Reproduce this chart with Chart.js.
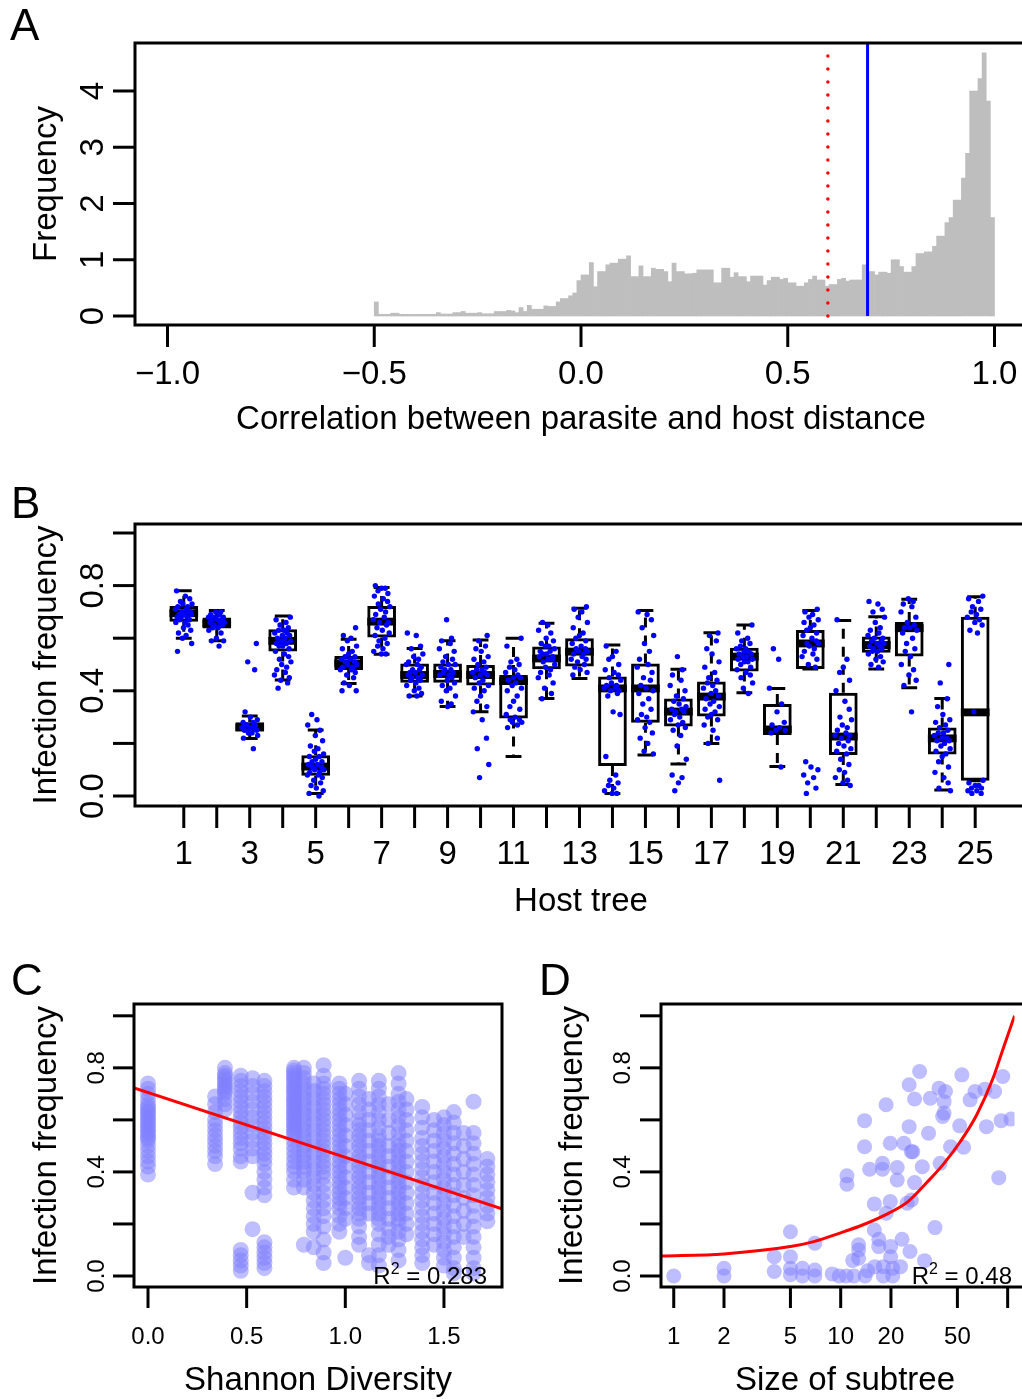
<!DOCTYPE html>
<html>
<head>
<meta charset="utf-8">
<script src="https://cdn.jsdelivr.net/npm/chart.js@4.4.1/dist/chart.umd.min.js"></script>
<style>
  html, body { margin: 0; padding: 0; background: #fff; overflow: hidden; }
  #page { position: relative; width: 1022px; height: 1399px; background: #fff; }
  canvas { position: absolute; }
</style>
</head>
<body>
<div id="page">
  <canvas id="panelA" width="1022" height="460" style="left:0;top:0"></canvas>
  <canvas id="panelB" width="1022" height="480" style="left:0;top:460px"></canvas>
  <canvas id="panelC" width="522" height="459" style="left:0;top:940px"></canvas>
  <canvas id="panelD" width="500" height="459" style="left:522px;top:940px"></canvas>
</div>
<script>
// ---------- panel A: correlation histogram (density, bins of 0.01 from -0.5)
const histStart = -0.5;
const histBin = 0.01;
const histDensity = [
  0.25, 0.03, 0.03, 0.03, 0.05, 0.05, 0.03, 0.03, 0.03, 0.03,
  0.03, 0.03, 0.03, 0.03, 0.03, 0.06, 0.035, 0.035, 0.035, 0.06,
  0.06, 0.08, 0.05, 0.05, 0.05, 0.06, 0.04, 0.04, 0.04, 0.08,
  0.08, 0.08, 0.10, 0.09, 0.06, 0.15, 0.08, 0.19, 0.12, 0.12,
  0.12, 0.18, 0.17, 0.17, 0.25, 0.31, 0.31, 0.36, 0.41, 0.63,
  0.73, 0.73, 0.95, 0.52, 0.79, 0.79, 0.91, 0.94, 0.94, 1.01,
  1.01, 1.07, 0.70, 0.70, 0.89, 0.70, 0.70, 0.85, 0.83, 0.83,
  0.79, 0.61, 0.94, 0.79, 0.79, 0.75, 0.75, 0.76, 0.82, 0.82,
  0.82, 0.82, 0.59, 0.59, 0.85, 0.85, 0.69, 0.77, 0.70, 0.70,
  0.61, 0.71, 0.71, 0.71, 0.55, 0.63, 0.69, 0.69, 0.65, 0.67,
  0.59, 0.59, 0.53, 0.53, 0.59, 0.65, 0.71, 0.64, 0.64, 0.53,
  0.56, 0.56, 0.65, 0.67, 0.62, 0.64, 0.64, 0.64, 0.91, 0.79,
  0.79, 0.73, 0.78, 0.78, 0.76, 1.00, 1.00, 0.88, 0.78, 0.78,
  0.88, 1.11, 1.11, 1.14, 1.14, 1.24, 1.42, 1.42, 1.66, 1.75,
  2.06, 2.06, 2.45, 2.89, 4.00, 4.00, 4.22, 4.68, 3.82, 1.75
];
const nullCorr = 0.597;   // red dotted line
const obsCorr = 0.693;    // blue line
const corrTicks = [-1, -0.5, 0, 0.5, 1];
const corrTickLabels = ['\u22121.0', '\u22120.5', '0.0', '0.5', '1.0'];
const freqTicks = [0, 1, 2, 3, 4];
const freqTickLabels = ['0', '1', '2', '3', '4'];

// ---------- panel B: infection frequency per host tree
const hostIds = [1,2,3,4,5,6,7,8,9,10,11,12,13,14,15,16,17,18,19,20,21,22,23,24,25];
const hostLo  = [0.600,0.590,0.219,0.441,0.010,0.428,0.539,0.380,0.340,0.320,0.150,0.371,0.447,0.010,0.156,0.122,0.200,0.393,0.112,0.483,0.044,0.483,0.412,0.023,0.058];
const hostQ1  = [0.663,0.637,0.245,0.549,0.077,0.479,0.603,0.431,0.431,0.420,0.295,0.482,0.492,0.114,0.279,0.264,0.302,0.473,0.232,0.483,0.156,0.545,0.530,0.158,0.058];
const hostMed = [0.695,0.656,0.261,0.590,0.112,0.504,0.663,0.460,0.464,0.460,0.437,0.523,0.549,0.409,0.409,0.321,0.378,0.530,0.253,0.580,0.226,0.574,0.638,0.219,0.318];
const hostQ3  = [0.722,0.679,0.280,0.634,0.155,0.532,0.722,0.504,0.504,0.498,0.460,0.568,0.600,0.454,0.504,0.371,0.435,0.564,0.350,0.631,0.393,0.606,0.662,0.260,0.682];
const hostHi  = [0.780,0.705,0.304,0.684,0.251,0.596,0.793,0.561,0.590,0.593,0.600,0.657,0.714,0.574,0.705,0.482,0.621,0.650,0.409,0.705,0.667,0.682,0.748,0.371,0.758];
const hostPoints = [
  [0.78,0.76,0.75,0.74,0.73,0.73,0.72,0.72,0.71,0.71,0.70,0.70,0.70,0.69,0.69,0.69,0.68,0.68,0.68,0.67,0.67,0.66,0.66,0.65,0.64,0.63,0.62,0.61,0.60,0.58,0.55],
  [0.70,0.70,0.69,0.69,0.68,0.68,0.68,0.67,0.67,0.67,0.66,0.66,0.66,0.65,0.65,0.64,0.64,0.63,0.62,0.60,0.59,0.59,0.57],
  [0.58,0.51,0.48,0.32,0.30,0.29,0.28,0.28,0.27,0.27,0.27,0.26,0.26,0.26,0.25,0.25,0.25,0.24,0.24,0.23,0.22,0.18],
  [0.68,0.67,0.66,0.65,0.64,0.63,0.63,0.62,0.62,0.61,0.61,0.60,0.60,0.59,0.59,0.58,0.58,0.57,0.57,0.56,0.55,0.54,0.53,0.52,0.51,0.50,0.49,0.48,0.47,0.46,0.45,0.44,0.43,0.41],
  [0.31,0.29,0.27,0.25,0.23,0.21,0.19,0.18,0.17,0.16,0.15,0.15,0.14,0.13,0.13,0.12,0.12,0.11,0.11,0.10,0.10,0.09,0.09,0.08,0.08,0.07,0.06,0.05,0.04,0.03,0.02,0.01,0.00],
  [0.64,0.61,0.60,0.59,0.57,0.56,0.55,0.54,0.53,0.53,0.52,0.52,0.51,0.51,0.50,0.50,0.49,0.49,0.48,0.48,0.47,0.46,0.45,0.43,0.42,0.40,0.40],
  [0.80,0.79,0.79,0.78,0.77,0.76,0.75,0.74,0.73,0.72,0.71,0.70,0.69,0.68,0.67,0.66,0.66,0.65,0.64,0.63,0.62,0.61,0.60,0.59,0.58,0.57,0.56,0.55,0.54,0.54],
  [0.62,0.61,0.57,0.56,0.54,0.53,0.52,0.51,0.50,0.50,0.49,0.48,0.48,0.47,0.47,0.46,0.46,0.45,0.45,0.44,0.44,0.43,0.42,0.41,0.40,0.39,0.38,0.38],
  [0.67,0.60,0.59,0.58,0.56,0.55,0.53,0.52,0.51,0.50,0.50,0.49,0.48,0.48,0.47,0.47,0.46,0.46,0.45,0.44,0.43,0.42,0.41,0.40,0.38,0.36,0.35,0.34],
  [0.61,0.59,0.57,0.56,0.55,0.53,0.52,0.51,0.50,0.49,0.48,0.48,0.47,0.47,0.46,0.46,0.45,0.44,0.43,0.42,0.41,0.40,0.38,0.36,0.34,0.32,0.29,0.22,0.18,0.12,0.07],
  [0.60,0.57,0.52,0.51,0.50,0.49,0.48,0.47,0.46,0.45,0.45,0.44,0.43,0.42,0.41,0.40,0.38,0.36,0.34,0.33,0.31,0.30,0.29,0.29,0.28,0.28,0.27,0.26],
  [0.66,0.65,0.63,0.62,0.60,0.59,0.58,0.57,0.57,0.56,0.55,0.55,0.54,0.54,0.53,0.53,0.52,0.52,0.51,0.50,0.49,0.48,0.47,0.46,0.45,0.43,0.41,0.39,0.37],
  [0.72,0.71,0.70,0.68,0.66,0.64,0.62,0.61,0.60,0.59,0.58,0.57,0.56,0.56,0.55,0.55,0.54,0.54,0.53,0.52,0.52,0.51,0.50,0.49,0.48,0.47,0.46],
  [0.57,0.55,0.53,0.52,0.50,0.48,0.47,0.46,0.45,0.44,0.43,0.42,0.42,0.41,0.41,0.40,0.40,0.39,0.38,0.32,0.31,0.15,0.08,0.06,0.05,0.04,0.03,0.02,0.01,0.01],
  [0.70,0.69,0.67,0.64,0.61,0.58,0.55,0.52,0.50,0.49,0.47,0.45,0.44,0.42,0.41,0.40,0.39,0.37,0.35,0.33,0.31,0.30,0.29,0.28,0.26,0.24,0.22,0.20,0.17,0.16],
  [0.53,0.48,0.46,0.44,0.42,0.40,0.38,0.37,0.36,0.35,0.34,0.33,0.33,0.32,0.32,0.31,0.30,0.29,0.28,0.27,0.26,0.25,0.23,0.19,0.14,0.08,0.07,0.05,0.02],
  [0.62,0.61,0.59,0.56,0.54,0.51,0.49,0.47,0.45,0.44,0.43,0.42,0.41,0.40,0.39,0.38,0.37,0.36,0.35,0.34,0.33,0.32,0.31,0.30,0.29,0.27,0.25,0.22,0.20,0.06],
  [0.65,0.62,0.60,0.59,0.58,0.57,0.56,0.56,0.55,0.55,0.54,0.54,0.53,0.53,0.52,0.52,0.51,0.51,0.50,0.49,0.48,0.47,0.46,0.45,0.43,0.41,0.39],
  [0.56,0.52,0.41,0.35,0.32,0.28,0.27,0.26,0.25,0.25,0.24,0.11],
  [0.71,0.70,0.69,0.68,0.67,0.66,0.65,0.64,0.63,0.62,0.61,0.60,0.59,0.58,0.58,0.57,0.56,0.55,0.54,0.53,0.52,0.50,0.49,0.13,0.11,0.10,0.08,0.07,0.05,0.03,0.01],
  [0.67,0.52,0.49,0.47,0.44,0.40,0.36,0.33,0.30,0.29,0.27,0.26,0.25,0.24,0.23,0.23,0.22,0.21,0.20,0.19,0.18,0.17,0.16,0.14,0.12,0.10,0.09,0.07,0.06,0.05,0.04],
  [0.74,0.73,0.71,0.70,0.68,0.66,0.64,0.63,0.62,0.61,0.60,0.60,0.59,0.59,0.58,0.58,0.57,0.57,0.56,0.56,0.55,0.55,0.54,0.53,0.52,0.51,0.50,0.49],
  [0.75,0.74,0.73,0.72,0.70,0.68,0.66,0.65,0.64,0.64,0.63,0.62,0.60,0.58,0.56,0.55,0.53,0.50,0.48,0.46,0.44,0.42,0.32],
  [0.50,0.43,0.37,0.34,0.31,0.29,0.28,0.27,0.26,0.25,0.24,0.24,0.23,0.22,0.22,0.21,0.21,0.20,0.19,0.18,0.17,0.16,0.15,0.13,0.11,0.09,0.07,0.05,0.03,0.02],
  [0.76,0.75,0.74,0.72,0.71,0.70,0.69,0.68,0.67,0.66,0.65,0.63,0.62,0.32,0.06,0.05,0.04,0.04,0.03,0.03,0.02,0.02,0.01,0.01]
];
// fixed horizontal spread for the stripchart points
const jitter = [-0.22,0.05,0.18,-0.10,0.25,-0.03,0.12,-0.18,0.08,-0.25,0.20,-0.06,0.15,-0.14,0.02,0.23,-0.20,0.10,-0.08,0.17,-0.12,0.04,-0.24,0.13,-0.01,0.21,-0.16,0.07,-0.04,0.24,-0.19,0.11,0.00,-0.11,0.19];
const hostTickLabels = hostIds.map(h => (h % 2 ? String(h) : ''));
const infTicks = [0, 0.2, 0.4, 0.6, 0.8, 1.0];
const infTickLabels = ['0.0', '', '0.4', '', '0.8', ''];

// ---------- panel C: infection frequency vs Shannon diversity
const shannonX = [0.00,0.34,0.39,0.47,0.53,0.59,0.74,0.79,0.84,0.89,0.97,1.00,1.07,1.12,1.17,1.22,1.27,1.31,1.39,1.45,1.50,1.55,1.60,1.65,1.72];
const shannonY = [
  [0.74,0.72,0.70,0.68,0.66,0.65,0.64,0.63,0.62,0.61,0.60,0.59,0.58,0.57,0.56,0.55,0.54,0.53,0.52,0.50,0.48,0.46,0.44,0.42,0.39],
  [0.69,0.66,0.63,0.60,0.58,0.56,0.54,0.52,0.50,0.48,0.46,0.43],
  [0.80,0.78,0.77,0.76,0.75,0.74,0.73,0.72,0.71,0.70,0.68,0.66,0.64],
  [0.77,0.75,0.73,0.71,0.69,0.67,0.65,0.63,0.61,0.59,0.57,0.55,0.53,0.51,0.49,0.46,0.44,0.10,0.08,0.06,0.04,0.02],
  [0.76,0.73,0.70,0.67,0.64,0.61,0.58,0.55,0.52,0.49,0.46,0.32,0.18],
  [0.75,0.73,0.71,0.69,0.67,0.65,0.63,0.61,0.59,0.57,0.55,0.53,0.51,0.49,0.47,0.45,0.43,0.40,0.37,0.34,0.31,0.13,0.11,0.09,0.07,0.05,0.03],
  [0.80,0.79,0.78,0.77,0.76,0.75,0.74,0.73,0.72,0.71,0.70,0.69,0.68,0.67,0.66,0.65,0.64,0.63,0.62,0.61,0.60,0.59,0.58,0.57,0.56,0.55,0.54,0.52,0.50,0.48,0.46,0.44,0.42,0.40,0.37,0.34],
  [0.80,0.78,0.76,0.74,0.72,0.70,0.68,0.66,0.64,0.62,0.60,0.58,0.56,0.54,0.52,0.50,0.48,0.46,0.44,0.42,0.40,0.37,0.34,0.12],
  [0.74,0.71,0.68,0.65,0.62,0.59,0.56,0.53,0.50,0.47,0.44,0.41,0.38,0.35,0.32,0.29,0.26,0.23,0.20,0.17,0.11],
  [0.81,0.77,0.74,0.72,0.70,0.68,0.66,0.64,0.62,0.60,0.58,0.56,0.54,0.52,0.50,0.48,0.46,0.44,0.42,0.40,0.38,0.35,0.32,0.29,0.26,0.23,0.19,0.14,0.09,0.05],
  [0.74,0.72,0.70,0.68,0.66,0.64,0.62,0.60,0.58,0.56,0.54,0.52,0.50,0.48,0.46,0.44,0.42,0.40,0.38,0.36,0.34,0.32,0.30,0.28,0.26,0.23,0.20,0.17],
  [0.70,0.66,0.62,0.58,0.54,0.50,0.46,0.42,0.38,0.34,0.30,0.26,0.22,0.07],
  [0.75,0.72,0.69,0.66,0.63,0.60,0.58,0.56,0.54,0.52,0.50,0.48,0.46,0.44,0.42,0.40,0.38,0.36,0.34,0.32,0.30,0.28,0.26,0.24,0.22,0.19,0.15,0.12],
  [0.68,0.64,0.60,0.56,0.52,0.48,0.44,0.40,0.36,0.32,0.28,0.24,0.08,0.05],
  [0.75,0.72,0.69,0.66,0.63,0.60,0.57,0.54,0.52,0.50,0.48,0.46,0.44,0.42,0.40,0.38,0.36,0.34,0.32,0.30,0.28,0.26,0.24,0.22,0.20,0.16,0.12,0.08,0.04],
  [0.66,0.60,0.55,0.50,0.46,0.42,0.38,0.34,0.30,0.26,0.22,0.18,0.15,0.12],
  [0.78,0.74,0.70,0.67,0.64,0.61,0.58,0.55,0.52,0.50,0.48,0.46,0.44,0.42,0.40,0.38,0.36,0.34,0.32,0.30,0.28,0.26,0.24,0.22,0.20,0.17,0.14,0.10,0.06],
  [0.68,0.64,0.60,0.56,0.52,0.48,0.44,0.40,0.36,0.32,0.28,0.24,0.20,0.16],
  [0.65,0.61,0.57,0.53,0.50,0.47,0.44,0.41,0.38,0.35,0.32,0.29,0.26,0.23,0.20,0.17,0.14,0.11,0.08,0.05],
  [0.60,0.56,0.52,0.48,0.44,0.40,0.36,0.32,0.28,0.24,0.20,0.16,0.12],
  [0.61,0.58,0.55,0.52,0.49,0.46,0.43,0.40,0.37,0.34,0.31,0.28,0.25,0.22,0.19,0.16,0.13,0.10,0.07,0.04],
  [0.63,0.59,0.55,0.51,0.47,0.43,0.39,0.35,0.31,0.27,0.23,0.19,0.15,0.11,0.07,0.03,0.01],
  [0.55,0.50,0.45,0.40,0.35,0.30,0.25,0.20,0.15],
  [0.67,0.55,0.51,0.47,0.43,0.39,0.35,0.31,0.27,0.23,0.19,0.15,0.11,0.07,0.03,0.01],
  [0.45,0.42,0.39,0.36,0.33,0.30,0.27,0.24,0.21]
];
const shannonFitX = [-0.071, 1.794];
const shannonFitY = [0.723, 0.258];
const shannonTicks = [0, 0.5, 1, 1.5];
const shannonTickLabels = ['0.0', '0.5', '1.0', '1.5'];

// ---------- panel D: infection frequency vs size of subtree (log x)
const subtreeSize = [1,2,2,4.0,4.0,5.0,5.0,5.0,5.0,5.9,5.9,7.0,7.0,7.0,8.9,9.8,10.8,10.9,10.9,11.8,12.0,12.8,12.8,12.8,13.9,13.9,14.0,14.5,14.9,15.9,15.9,16.0,16.9,16.9,17.8,17.8,18.0,18.0,18.7,18.7,19.8,19.8,19.9,19.9,20.5,20.5,21.8,21.8,22.8,23.3,23.9,25.0,25.7,25.7,26.0,26.5,27.0,26.5,27.7,27.7,29.7,30.8,31.8,33.6,34.4,36.7,38.8,39.4,41.6,41.6,42.4,40.8,45.5,51.6,53.2,54.5,59.6,63.8,74.6,73.0,83.5,88.5,91.4,93.5,104.7];
const subtreeInf  = [0.0,0.03,0.0,0.074,0.017,0.17,0.074,0.03,0.005,0.03,0.0,0.126,0.023,0.0,0.008,0.0,0.0,0.385,0.353,0.06,0.0,0.12,0.10,0.068,0.597,0.497,0.0,0.02,0.41,0.277,0.177,0.036,0.141,0.113,0.433,0.41,0.036,0.0,0.658,0.241,0.51,0.286,0.113,0.074,0.03,0.0,0.417,0.369,0.036,0.141,0.51,0.28,0.735,0.574,0.094,0.478,0.478,0.292,0.68,0.359,0.786,0.42,0.059,0.549,0.683,0.186,0.722,0.433,0.67,0.626,0.709,0.613,0.497,0.577,0.773,0.495,0.677,0.709,0.574,0.718,0.709,0.378,0.597,0.767,0.603];
const subtreeFitX = [0.84, 2, 5, 6.9, 9.8, 13.5, 18.5, 25.3, 33.2, 41.6, 52.1, 65.2, 81.7, 93.5, 110];
const subtreeFitY = [0.077, 0.085, 0.113, 0.132, 0.164, 0.196, 0.235, 0.286, 0.363, 0.433, 0.517, 0.619, 0.76, 0.87, 1.0];
const subtreeTicks = [1, 2, 5, 10, 20, 50, 100];
const subtreeTickLabels = ['1', '2', '5', '10', '20', '50', ''];

const FONT = '"Liberation Sans", Arial, Helvetica, sans-serif';

// R-like axes: box, outward ticks, rotated y labels, titles and panel letter
const rAxes = {
  id: 'rAxes',
  afterDraw(chart, args, o) {
    const ctx = chart.ctx, a = chart.chartArea;
    const xs = chart.scales.x, ys = chart.scales.y;
    ctx.save();
    ctx.strokeStyle = '#000';
    ctx.fillStyle = '#000';
    ctx.lineWidth = 3;

    ctx.beginPath();
    const right = o.openRight ? chart.width + 10 : a.right;
    ctx.rect(a.left, a.top, right - a.left, a.bottom - a.top);
    ctx.stroke();

    ctx.font = o.tickSize + 'px ' + FONT;
    ctx.textAlign = 'center';
    ctx.textBaseline = 'alphabetic';
    o.xTicks.forEach((v, i) => {
      const px = xs.getPixelForValue(v);
      ctx.beginPath();
      ctx.moveTo(px, a.bottom);
      ctx.lineTo(px, a.bottom + o.tickLen);
      ctx.stroke();
      if (o.xLabels[i]) ctx.fillText(o.xLabels[i], px, o.xLabelY);
    });
    o.yTicks.forEach((v, i) => {
      const py = ys.getPixelForValue(v);
      ctx.beginPath();
      ctx.moveTo(a.left - o.tickLen, py);
      ctx.lineTo(a.left, py);
      ctx.stroke();
      if (o.yLabels[i]) {
        ctx.save();
        ctx.translate(o.yLabelX, py);
        ctx.rotate(-Math.PI / 2);
        ctx.fillText(o.yLabels[i], 0, 0);
        ctx.restore();
      }
    });

    ctx.font = '33px ' + FONT;
    ctx.fillText(o.xTitle, o.xTitleX, o.xTitleY);
    ctx.save();
    ctx.translate(o.yTitleX, (a.top + a.bottom) / 2);
    ctx.rotate(-Math.PI / 2);
    ctx.fillText(o.yTitle, 0, 0);
    ctx.restore();

    ctx.textAlign = 'left';
    ctx.font = '44px ' + FONT;
    ctx.fillText(o.letter, o.letterX, o.letterY);

    if (o.r2) {
      const big = '24px ' + FONT, small = '16px ' + FONT;
      ctx.font = big;
      const wR = ctx.measureText('R').width;
      const rest = ' = ' + o.r2.value;
      const wRest = ctx.measureText(rest).width;
      ctx.font = small;
      const w2 = ctx.measureText('2').width;
      let x = o.r2.right - (wR + w2 + wRest);
      ctx.font = big;
      ctx.fillText('R', x, o.r2.y);
      x += wR;
      ctx.font = small;
      ctx.fillText('2', x, o.r2.y - 10);
      x += w2;
      ctx.font = big;
      ctx.fillText(rest, x, o.r2.y);
    }
    ctx.restore();
  }
};

const baseOptions = {
  responsive: false,
  animation: false,
  devicePixelRatio: 1,
  events: []
};

// ---- A
const histData = histDensity.map((d, i) => ({ x: histStart + histBin * (i + 0.5), y: d }));
new Chart(document.getElementById('panelA'), {
  type: 'bar',
  data: {
    datasets: [
      { type: 'line', data: [{ x: nullCorr, y: 0 }, { x: nullCorr, y: 4.85 }], borderColor: '#FF0000', borderWidth: 3.5,
        borderDash: [0, 13], borderCapStyle: 'round', pointRadius: 0, order: 0 },
      { type: 'line', data: [{ x: obsCorr, y: 0 }, { x: obsCorr, y: 4.86 }], borderColor: '#0000FF', borderWidth: 3,
        pointRadius: 0, order: 0 },
      { type: 'bar', data: histData, backgroundColor: '#BEBEBE', borderWidth: 0,
        barPercentage: 1, categoryPercentage: 1, order: 1 }
    ]
  },
  options: Object.assign({}, baseOptions, {
    layout: { padding: { left: 135, top: 43, right: 0, bottom: 135 } },
    scales: {
      x: { type: 'linear', min: -1.0786, max: 1.0665, offset: false, display: false },
      y: { type: 'linear', min: -0.16, max: 4.853, display: false }
    },
    plugins: {
      legend: { display: false }, tooltip: { enabled: false },
      rAxes: {
        openRight: true, tickLen: 22, tickSize: 33,
        xTicks: corrTicks, xLabels: corrTickLabels, xLabelY: 384,
        yTicks: freqTicks, yLabels: freqTickLabels, yLabelX: 103,
        xTitle: 'Correlation between parasite and host distance', xTitleX: 581, xTitleY: 429,
        yTitle: 'Frequency', yTitleX: 56,
        letter: 'A', letterX: 10, letterY: 40
      }
    }
  }),
  plugins: [rAxes]
});

// ---- B
const boxData = hostIds.map((h, i) => ({ x: h, y: [hostQ1[i], hostQ3[i]] }));
const medData = hostIds.map((h, i) => ({ x: h, y: [hostMed[i] - 0.015, hostMed[i] + 0.015] }));
const whiskerData = [];
const stapleData = [];
hostIds.forEach((h, i) => {
  whiskerData.push({ x: h, y: hostQ3[i] }, { x: h, y: hostHi[i] }, { x: h, y: null });
  whiskerData.push({ x: h, y: hostQ1[i] }, { x: h, y: hostLo[i] }, { x: h, y: null });
  stapleData.push({ x: h - 0.24, y: hostHi[i] }, { x: h + 0.24, y: hostHi[i] }, { x: h, y: null });
  stapleData.push({ x: h - 0.24, y: hostLo[i] }, { x: h + 0.24, y: hostLo[i] }, { x: h, y: null });
});
const hostPointData = [];
hostPoints.forEach((vals, i) => {
  vals.forEach((v, j) => {
    hostPointData.push({ x: hostIds[i] + jitter[(j + 5 * i) % jitter.length], y: v });
  });
});

new Chart(document.getElementById('panelB'), {
  type: 'bar',
  data: {
    datasets: [
      { type: 'scatter', data: hostPointData, pointRadius: 2.7, backgroundColor: '#0000FF', borderColor: '#0000FF',
        pointBorderWidth: 0, borderWidth: 0, order: 0 },
      { type: 'bar', data: medData, backgroundColor: '#000', borderWidth: 0, barPercentage: 0.87,
        categoryPercentage: 1, grouped: false, order: 1 },
      { type: 'bar', data: boxData, backgroundColor: 'rgba(255,255,255,0)', borderColor: '#000', borderWidth: 3,
        borderSkipped: false, barPercentage: 0.87, categoryPercentage: 1, grouped: false, order: 2 },
      { type: 'line', data: whiskerData, borderColor: '#000', borderWidth: 3, borderDash: [10, 8],
        pointRadius: 0, spanGaps: false, order: 3 },
      { type: 'line', data: stapleData, borderColor: '#000', borderWidth: 3, pointRadius: 0, spanGaps: false, order: 3 }
    ]
  },
  options: Object.assign({}, baseOptions, {
    layout: { padding: { left: 135, top: 64, right: 0, bottom: 134 } },
    scales: {
      x: { type: 'linear', min: -0.479, max: 26.298, offset: false, display: false },
      y: { type: 'linear', min: -0.038, max: 1.0342, display: false }
    },
    plugins: {
      legend: { display: false }, tooltip: { enabled: false },
      rAxes: {
        openRight: true, tickLen: 22, tickSize: 33,
        xTicks: hostIds, xLabels: hostTickLabels, xLabelY: 404,
        yTicks: infTicks, yLabels: infTickLabels, yLabelX: 103,
        xTitle: 'Host tree', xTitleX: 581, xTitleY: 451,
        yTitle: 'Infection frequency', yTitleX: 56,
        letter: 'B', letterX: 11, letterY: 58
      }
    }
  }),
  plugins: [rAxes]
});

// ---- C
const shannonPts = [];
shannonX.forEach((x, i) => shannonY[i].forEach(y => shannonPts.push({ x: x, y: y })));
new Chart(document.getElementById('panelC'), {
  type: 'scatter',
  data: {
    datasets: [
      { type: 'line', data: shannonFitX.map((x, i) => ({ x: x, y: shannonFitY[i] })), borderColor: '#FF0000',
        borderWidth: 3, pointRadius: 0, order: 0 },
      { data: shannonPts, pointRadius: 8, backgroundColor: 'rgba(128,128,255,0.5)', borderWidth: 0,
        pointBorderWidth: 0, order: 1 }
    ]
  },
  options: Object.assign({}, baseOptions, {
    layout: { padding: { left: 134, top: 64, right: 20, bottom: 112 } },
    scales: {
      x: { type: 'linear', min: -0.071, max: 1.7942, display: false },
      y: { type: 'linear', min: -0.0423, max: 1.0454, display: false }
    },
    plugins: {
      legend: { display: false }, tooltip: { enabled: false },
      rAxes: {
        openRight: false, tickLen: 21, tickSize: 24,
        xTicks: shannonTicks, xLabels: shannonTickLabels, xLabelY: 404,
        yTicks: infTicks, yLabels: infTickLabels, yLabelX: 104,
        xTitle: 'Shannon Diversity', xTitleX: 318, xTitleY: 450,
        yTitle: 'Infection frequency', yTitleX: 56,
        letter: 'C', letterX: 11, letterY: 55,
        r2: { value: '0.283', right: 487, y: 344 }
      }
    }
  }),
  plugins: [rAxes]
});

// ---- D
new Chart(document.getElementById('panelD'), {
  type: 'scatter',
  data: {
    datasets: [
      { type: 'line', data: subtreeFitX.map((x, i) => ({ x: x, y: subtreeFitY[i] })), borderColor: '#FF0000',
        borderWidth: 3, pointRadius: 0, cubicInterpolationMode: 'monotone', order: 0 },
      { data: subtreeSize.map((x, i) => ({ x: x, y: subtreeInf[i] })), pointRadius: 7.5,
        backgroundColor: 'rgba(128,128,255,0.52)', borderWidth: 0, pointBorderWidth: 0, order: 1 }
    ]
  },
  options: Object.assign({}, baseOptions, {
    layout: { padding: { left: 139, top: 64, right: 0, bottom: 112 } },
    scales: {
      x: { type: 'logarithmic', min: 0.8389, max: 109.9, display: false },
      y: { type: 'linear', min: -0.0423, max: 1.0454, display: false }
    },
    plugins: {
      legend: { display: false }, tooltip: { enabled: false },
      rAxes: {
        openRight: true, tickLen: 21, tickSize: 24,
        xTicks: subtreeTicks, xLabels: subtreeTickLabels, xLabelY: 404,
        yTicks: infTicks, yLabels: infTickLabels, yLabelX: 108,
        xTitle: 'Size of subtree', xTitleX: 323, xTitleY: 450,
        yTitle: 'Infection frequency', yTitleX: 60,
        letter: 'D', letterX: 17, letterY: 55,
        r2: { value: '0.48', right: 490, y: 344 }
      }
    }
  }),
  plugins: [rAxes]
});
</script>
</body>
</html>
